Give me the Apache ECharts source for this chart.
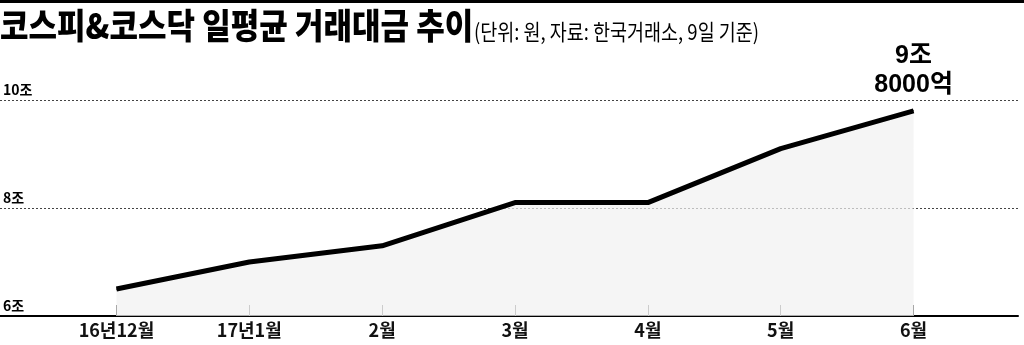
<!DOCTYPE html>
<html><head><meta charset="utf-8">
<script src="https://cdn.jsdelivr.net/npm/echarts@6/dist/echarts.min.js"></script>
<style>html,body{margin:0;padding:0;background:#fff}#c{width:1024px;height:345px}</style>
</head><body><div id="c"></div>
<script>
var titleText = '코스피&코스닥 일평균 거래대금 추이';
var subText = '(단위: 원, 자료: 한국거래소, 9일 기준)';
var categories = ['16년12월', '17년1월', '2월', '3월', '4월', '5월', '6월'];
var values = [6.5, 7.0, 7.3, 8.1, 8.1, 9.1, 9.8];
var yTicks = [6, 8, 10];
var yTickLabels = ['6조', '8조', '10조'];
var lastLabel = '9조\n8000억';

var FONT = '"Noto Sans CJK KR", sans-serif';
var WIDE = '"Liberation Sans", "Noto Sans CJK KR", sans-serif';
var chart = echarts.init(document.getElementById('c'), null, {renderer: 'canvas'});
var seriesData = values.map(function (v, i) {
  if (i === values.length - 1) {
    return {value: v, label: {show: true, position: 'top', distance: 11, formatter: lastLabel,
      fontFamily: WIDE, fontWeight: 'bold', fontSize: 25, lineHeight: 29, color: '#000'}};
  }
  return v;
});
chart.setOption({
  animation: false,
  grid: [
    {left: 0, right: 6, top: 100, bottom: 29},
    {left: 50, right: 44, top: 100, bottom: 29}
  ],
  xAxis: [
    {gridIndex: 0, type: 'value', min: 0, max: 1, axisLine: {show: true, lineStyle: {color: '#000', width: 2}},
      axisTick: {show: false}, axisLabel: {show: false}, splitLine: {show: false}},
    {gridIndex: 1, type: 'category', data: categories, boundaryGap: true,
      axisLine: {show: false},
      axisTick: {show: true, inside: true, alignWithLabel: true, length: 11, lineStyle: {color: '#777', width: 1}},
      axisLabel: {margin: 5, fontFamily: FONT, fontWeight: 'bold', fontSize: 18, color: '#111'}}
  ],
  yAxis: [
    {gridIndex: 0, type: 'value', min: 6, max: 10, interval: 2,
      axisLine: {show: false}, axisTick: {show: false},
      axisLabel: {inside: true, margin: 3, verticalAlign: 'bottom', padding: [0, 0, 3, 0], fontFamily: FONT, fontWeight: 'bold', fontSize: 14, color: '#000',
        formatter: function (v) { var k = yTicks.indexOf(v); return k >= 0 ? yTickLabels[k] : ''; }},
      splitLine: {show: true, lineStyle: {color: '#444', type: [2, 2], width: 1}}},
    {gridIndex: 1, type: 'value', min: 6, max: 10, interval: 2, show: false, splitLine: {show: false}}
  ],
  series: [{
    type: 'line', xAxisIndex: 1, yAxisIndex: 1, data: seriesData,
    symbol: 'circle', symbolSize: 1, showSymbol: true, itemStyle: {color: '#000'},
    lineStyle: {color: '#000', width: 5},
    areaStyle: {color: '#f1f1f1', origin: 'start'}, z: 3
  }],
  graphic: [
    {type: 'rect', left: 0, top: 0, shape: {width: 1024, height: 3}, style: {fill: '#000'}},
    {type: 'text', x: 0, y: 8, scaleX: 0.886, style: {text: titleText, fontFamily: FONT, fontWeight: 900, fontSize: 35, fill: '#000'}},
    {type: 'text', x: 474, y: 21, scaleX: 0.84, style: {text: subText, fontFamily: FONT, fontWeight: 'normal', fontSize: 22, fill: '#000'}}
  ]
});
</script></body></html>
